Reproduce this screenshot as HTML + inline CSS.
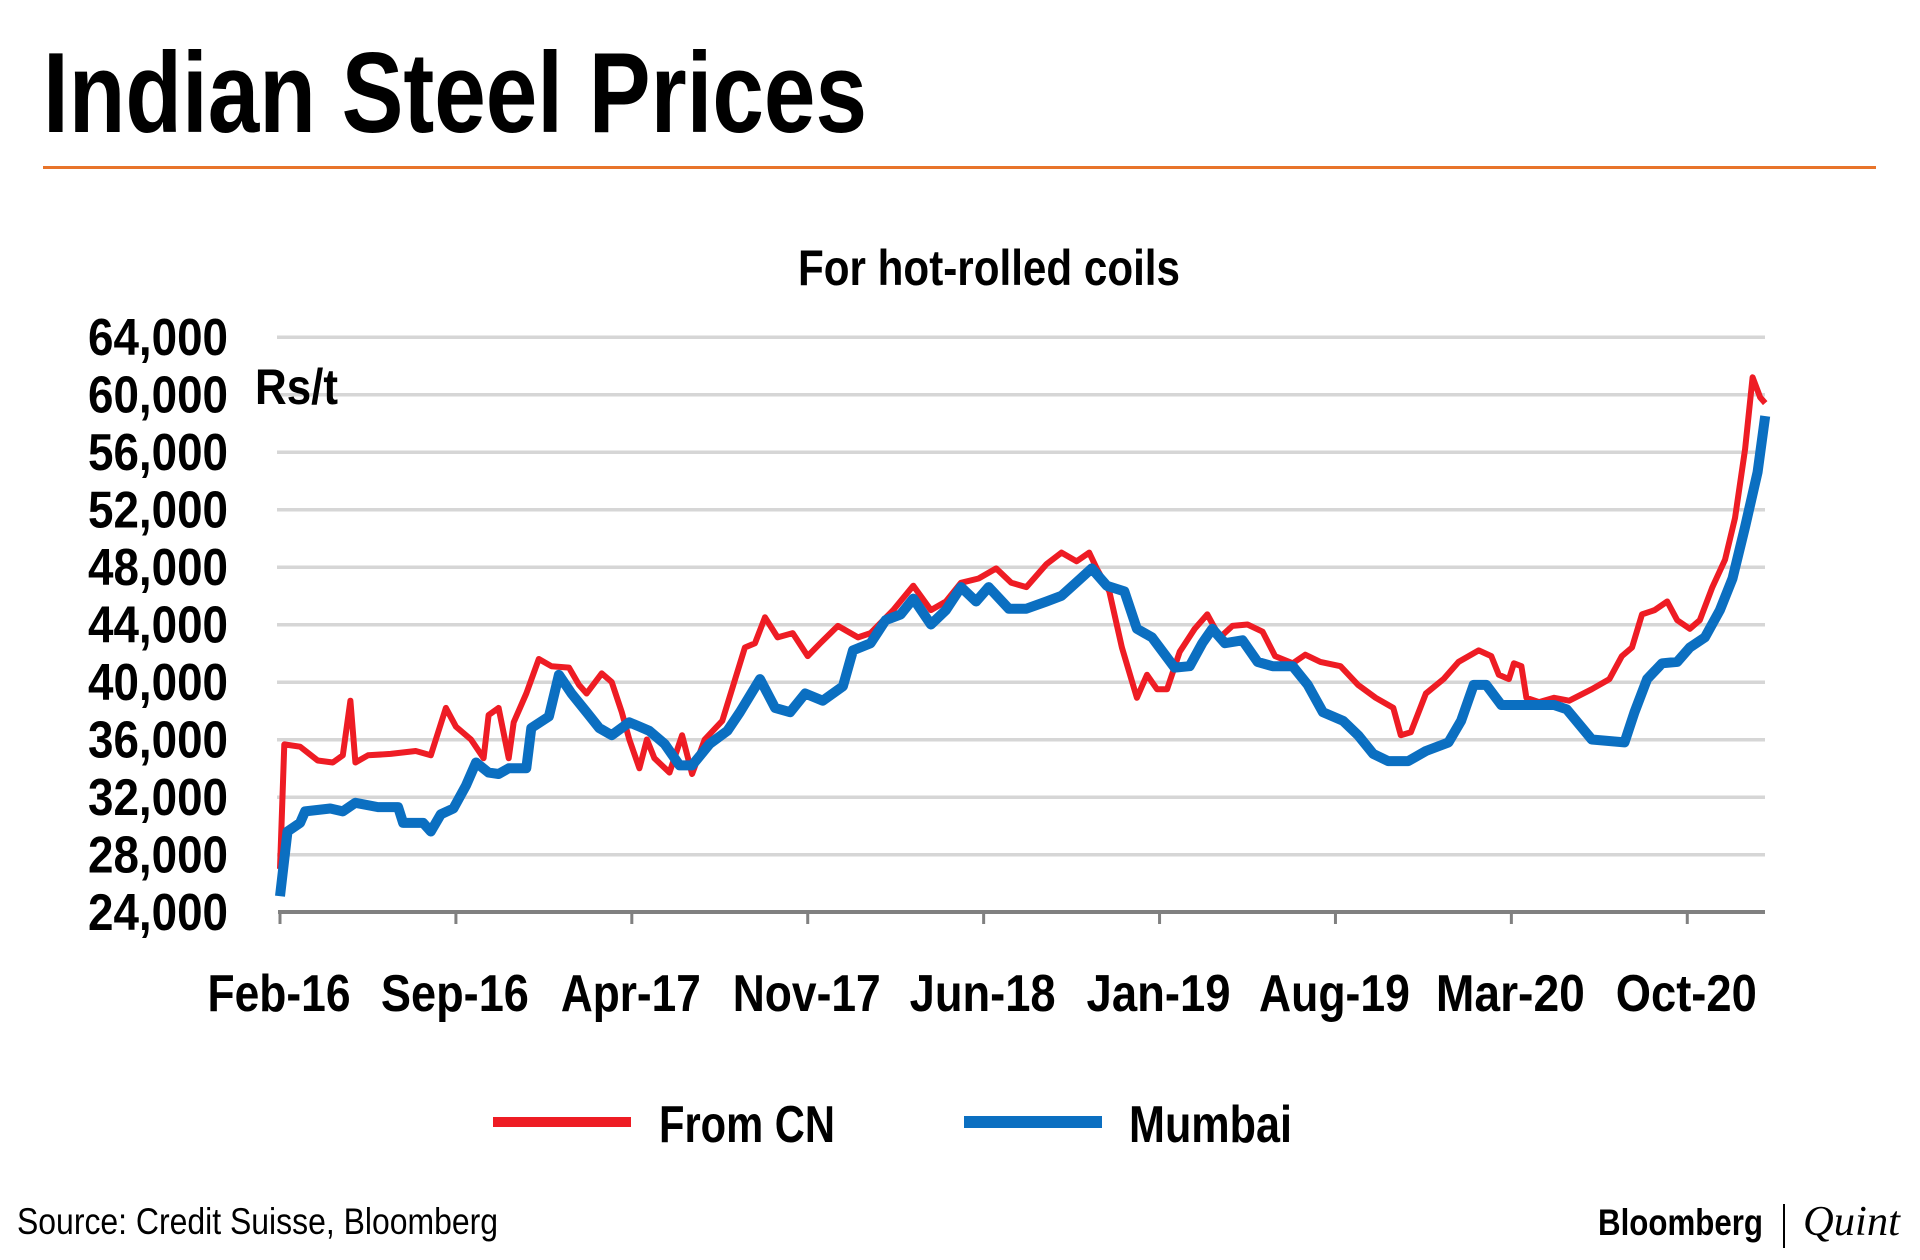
<!DOCTYPE html>
<html><head><meta charset="utf-8"><title>Indian Steel Prices</title>
<style>
html,body{margin:0;padding:0;background:#fff;}
svg{display:block;}
text{font-family:"Liberation Sans",sans-serif;fill:#000;}
</style></head>
<body>
<svg id="chart" width="1920" height="1260" viewBox="0 0 1920 1260">
  <text x="43" y="132" font-size="114" font-weight="bold" textLength="824" lengthAdjust="spacingAndGlyphs">Indian Steel Prices</text>
  <rect x="43" y="166" width="1833" height="3" fill="#e8742a"/>
  <text x="798" y="285" font-size="50" font-weight="bold" textLength="382" lengthAdjust="spacingAndGlyphs">For hot-rolled coils</text>
  <g id="grid"></g>
  <g id="yaxis"></g>
  <text x="255" y="404" font-size="50" font-weight="bold" textLength="83" lengthAdjust="spacingAndGlyphs">Rs/t</text>
  <g id="xaxis"></g>
  <g id="series"></g>
  <g>
    <g>
      <rect x="493" y="1117" width="138" height="10" fill="#ee1c24"/>
      <text x="659" y="1142" font-size="52" font-weight="bold" textLength="176" lengthAdjust="spacingAndGlyphs">From CN</text>
    </g>
    <g>
      <rect x="964" y="1116" width="138" height="12" fill="#0b6fc1"/>
      <text x="1129" y="1142" font-size="52" font-weight="bold" textLength="163" lengthAdjust="spacingAndGlyphs">Mumbai</text>
    </g>
  </g>
  <text x="17" y="1234" font-size="37" textLength="481" lengthAdjust="spacingAndGlyphs">Source: Credit Suisse, Bloomberg</text>
  <text x="1598" y="1235" font-size="37" font-weight="bold" textLength="165" lengthAdjust="spacingAndGlyphs">Bloomberg</text>
  <rect x="1783" y="1204" width="2" height="44" fill="#000"/>
  <text x="1803" y="1235" font-size="42" font-style="italic" textLength="97" lengthAdjust="spacingAndGlyphs" style="font-family:'Liberation Serif',serif">Quint</text>
</svg>
<script>
const yTicks = [24000,28000,32000,36000,40000,44000,48000,52000,56000,60000,64000];
const yTickLabels = ["24,000","28,000","32,000","36,000","40,000","44,000","48,000","52,000","56,000","60,000","64,000"];
const xTickMonths = [0,7,14,21,28,35,42,49,56];
const xTickLabels = ["Feb-16","Sep-16","Apr-17","Nov-17","Jun-18","Jan-19","Aug-19","Mar-20","Oct-20"];
const cnMonths = [0,0.17,0.8,1.5,2.1,2.5,2.8,3.0,3.5,4.4,5.4,6.0,6.6,7.0,7.6,8.1,8.3,8.7,9.1,9.3,9.8,10.3,10.8,11.5,11.9,12.2,12.8,13.2,13.6,13.9,14.3,14.6,14.9,15.5,16.0,16.4,16.9,17.6,18.5,18.9,19.3,19.8,20.4,21.0,21.5,22.2,23.0,23.5,24.4,25.2,25.9,26.5,27.1,27.8,28.5,29.1,29.7,30.5,31.1,31.7,32.2,32.5,33.0,33.5,34.1,34.5,34.9,35.3,35.8,36.4,36.9,37.4,37.9,38.5,39.1,39.6,40.3,40.8,41.4,42.2,42.9,43.6,44.3,44.6,45.0,45.6,46.3,46.9,47.7,48.2,48.5,48.9,49.1,49.4,49.6,50.1,50.7,51.3,52.2,52.9,53.4,53.8,54.2,54.7,55.2,55.6,56.1,56.5,57.0,57.5,57.9,58.3,58.6,58.9,59.1];
const cnValues = [27000,35660,35500,34540,34400,34900,38700,34400,34900,35000,35200,34900,38200,36900,36000,34700,37700,38200,34700,37200,39200,41600,41100,41000,39800,39200,40600,40000,37900,36000,34000,36000,34700,33700,36300,33600,36000,37300,42400,42700,44500,43100,43400,41800,42700,43900,43100,43400,45000,46700,45000,45600,46900,47200,47900,46900,46600,48200,49000,48400,49000,47900,46300,42400,38900,40500,39500,39500,42100,43700,44700,43100,43900,44000,43500,41800,41300,41900,41400,41100,39800,38900,38200,36300,36500,39200,40200,41400,42200,41800,40500,40200,41300,41100,38900,38600,38900,38700,39500,40200,41800,42400,44700,45000,45600,44300,43700,44300,46600,48500,51400,56200,61200,59800,59400];
const mumMonths = [0,0.3,0.8,1.0,2.0,2.5,3.0,3.9,4.7,4.9,5.7,6.0,6.4,6.9,7.4,7.8,8.3,8.7,9.1,9.8,10.0,10.7,11.1,11.6,12.2,12.7,13.2,13.9,14.7,15.3,15.9,16.4,17.1,17.8,18.3,19.1,19.7,20.3,20.9,21.6,22.4,22.8,23.5,24.1,24.7,25.2,25.9,26.5,27.1,27.7,28.2,29.0,29.7,30.5,31.1,31.8,32.3,32.9,33.6,34.1,34.7,35.6,36.2,36.7,37.1,37.6,38.3,38.9,39.5,40.3,40.9,41.5,42.3,42.9,43.5,44.1,44.9,45.6,46.5,47.0,47.5,48.0,48.6,49.5,50.7,51.2,52.2,53.5,53.9,54.4,55.0,55.6,56.1,56.7,57.3,57.8,58.3,58.8,59.1];
const mumValues = [25100,29600,30200,31000,31200,31000,31600,31300,31300,30200,30200,29600,30800,31200,32800,34400,33700,33600,34000,34000,36800,37600,40500,39200,37900,36800,36300,37200,36600,35700,34200,34200,35700,36600,37900,40200,38200,37900,39200,38700,39700,42200,42700,44300,44700,45800,44000,45000,46600,45600,46600,45100,45100,45600,46000,47100,47900,46700,46300,43700,43100,41000,41100,42700,43700,42700,42900,41400,41100,41100,39800,37900,37300,36300,35000,34500,34500,35200,35800,37300,39800,39800,38400,38400,38400,38100,36000,35800,37900,40200,41300,41400,42400,43100,45000,47200,50800,54600,58500];

const NS = "http://www.w3.org/2000/svg";
const X0 = 280, PX_PER_MONTH = 25.13, XEND = 1765;
const Y_MIN = 24000, Y_MAX = 64000, Y_BOTTOM = 912, Y_TOP = 337;
function xScale(m){ return X0 + m * PX_PER_MONTH; }
function yScale(v){ return Y_BOTTOM - (v - Y_MIN) / (Y_MAX - Y_MIN) * (Y_BOTTOM - Y_TOP); }

const grid = document.getElementById('grid');
const yaxis = document.getElementById('yaxis');
yTicks.forEach((v, i) => {
  const y = yScale(v);
  if (i > 0) {
    const l = document.createElementNS(NS, 'rect');
    l.setAttribute('x', X0 - 3); l.setAttribute('y', y - 1.5);
    l.setAttribute('width', XEND - X0 + 3); l.setAttribute('height', 3.5);
    l.setAttribute('fill', '#d6d6d6');
    
    
    grid.appendChild(l);
  }
  const t = document.createElementNS(NS, 'text');
  t.setAttribute('x', 228); t.setAttribute('y', y + 18);
  t.setAttribute('text-anchor', 'end');
  t.setAttribute('font-size', '52'); t.setAttribute('font-weight', 'bold');
  t.setAttribute('textLength', '140'); t.setAttribute('lengthAdjust', 'spacingAndGlyphs');
  t.textContent = yTickLabels[i];
  
  
  yaxis.appendChild(t);
});

const xaxis = document.getElementById('xaxis');
const axisLine = document.createElementNS(NS, 'rect');
axisLine.setAttribute('x', X0 - 2); axisLine.setAttribute('y', Y_BOTTOM - 2);
axisLine.setAttribute('width', XEND - X0 + 2); axisLine.setAttribute('height', 4);
axisLine.setAttribute('fill', '#808080');


xaxis.appendChild(axisLine);
const xLabelWidths = [143,148,140,148,146,144,151,149,141];
xTickMonths.forEach((m, i) => {
  const x = xScale(m);
  const tk = document.createElementNS(NS, 'rect');
  tk.setAttribute('x', x - 1.5); tk.setAttribute('y', Y_BOTTOM);
  tk.setAttribute('width', 3); tk.setAttribute('height', 12);
  tk.setAttribute('fill', '#808080');
  
  
  xaxis.appendChild(tk);
  const t = document.createElementNS(NS, 'text');
  t.setAttribute('x', x - 1); t.setAttribute('y', 1011);
  t.setAttribute('text-anchor', 'middle');
  t.setAttribute('font-size', '52'); t.setAttribute('font-weight', 'bold');
  t.setAttribute('textLength', xLabelWidths[i]); t.setAttribute('lengthAdjust', 'spacingAndGlyphs');
  t.textContent = xTickLabels[i];
  
  
  xaxis.appendChild(t);
});

const series = document.getElementById('series');
function drawLine(months, values, color, width, name){
  const p = document.createElementNS(NS, 'polyline');
  p.setAttribute('points', months.map((m, i) => xScale(m).toFixed(1) + ',' + yScale(values[i]).toFixed(1)).join(' '));
  p.setAttribute('fill', 'none'); p.setAttribute('stroke', color);
  p.setAttribute('stroke-width', width); p.setAttribute('stroke-linejoin', 'round');
  
  
  series.appendChild(p);
}
drawLine(cnMonths, cnValues, '#ee1c24', 6, 'from-cn-line');
drawLine(mumMonths, mumValues, '#0b6fc1', 10, 'mumbai-line');
</script>
</body></html>
